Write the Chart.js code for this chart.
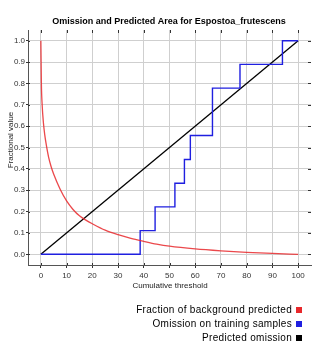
<!DOCTYPE html>
<html>
<head>
<meta charset="utf-8">
<script src="https://cdn.jsdelivr.net/npm/chart.js@4/dist/chart.umd.min.js"></script>
<style>
  html, body { margin: 0; padding: 0; background: #fff; }
  #wrap { width: 322px; height: 350px; }
</style>
</head>
<body>
<div id="wrap"><canvas id="chart" width="322" height="350"></canvas></div>
<script>
// data
const bgThreshold = [0, 0.2, 0.5, 1, 1.5, 2, 3, 4, 5, 7.5, 10, 12.5, 15, 17.5, 20, 25, 30, 35, 40, 45, 50, 60, 70, 80, 90, 100];
const bgFraction  = [1.0, 0.8, 0.7, 0.615, 0.56, 0.52, 0.455, 0.41, 0.375, 0.305, 0.25, 0.21, 0.18, 0.16, 0.143, 0.113, 0.092, 0.075, 0.061, 0.048, 0.038, 0.025, 0.016, 0.009, 0.004, 0.0];

const omThreshold = [0, 38.6, 44.4, 52.1, 55.8, 58.1, 66.7, 77.4, 93.9, 100];
const omValue     = [0, 0.111, 0.222, 0.333, 0.444, 0.556, 0.778, 0.889, 1.0, 1.0];

const predThreshold = [0, 100];
const predValue     = [0, 1];

const xTicks = [0, 10, 20, 30, 40, 50, 60, 70, 80, 90, 100];
const yTicks = [0, 0.1, 0.2, 0.3, 0.4, 0.5, 0.6, 0.7, 0.8, 0.9, 1.0];

const legendItems = [
    { label: 'Fraction of background predicted', color: '#e8282b' },
    { label: 'Omission on training samples', color: '#1f1fe0' },
    { label: 'Predicted omission', color: '#000000' }
];

function toPoints(xs, ys) {
    return xs.map((x, i) => ({ x: x, y: ys[i] }));
}

// title, axis titles, legend, inner tick marks
const decorations = {
    id: 'decorations',
    afterDraw(chart) {
        const ctx = chart.ctx;
        const area = chart.chartArea;
        const xs = chart.scales.x, ys = chart.scales.y;
        ctx.save();

        // small ticks inside the frame
        ctx.strokeStyle = '#333';
        ctx.lineWidth = 1;
        ctx.beginPath();
        xTicks.forEach(v => {
            const px = Math.round(xs.getPixelForValue(v)) + 0.5;
            ctx.moveTo(px, area.top); ctx.lineTo(px, area.top + 3);
            ctx.moveTo(px, area.bottom); ctx.lineTo(px, area.bottom - 2);
        });
        yTicks.forEach(v => {
            const py = Math.round(ys.getPixelForValue(v)) + 0.5;
            ctx.moveTo(area.right, py); ctx.lineTo(area.right - 3, py);
            ctx.moveTo(area.left, py); ctx.lineTo(area.left + 2, py);
        });
        ctx.stroke();

        ctx.fillStyle = '#000';
        ctx.textAlign = 'center';
        ctx.textBaseline = 'middle';
        ctx.font = 'bold 9px "Liberation Sans"';
        ctx.fillText('Omission and Predicted Area for Espostoa_frutescens', 169, 22);

        ctx.fillStyle = '#222';
        ctx.font = '8px "Liberation Sans"';
        ctx.fillText('Cumulative threshold', 170, 286);

        ctx.save();
        ctx.translate(10.5, 140);
        ctx.rotate(-Math.PI / 2);
        ctx.fillText('Fractional value', 0, 0);
        ctx.restore();

        // legend, right aligned with a square after the text
        ctx.font = '10px "Liberation Sans"';
        ctx.letterSpacing = '0.3px';
        ctx.textAlign = 'right';
        const rows = [310, 324, 338];
        legendItems.forEach((item, i) => {
            ctx.fillStyle = '#000';
            ctx.fillText(item.label, 292, rows[i]);
            ctx.fillStyle = item.color;
            ctx.fillRect(296, rows[i] - 3, 6, 6);
        });
        ctx.restore();
    }
};

const ctx = document.getElementById('chart').getContext('2d');

new Chart(ctx, {
    type: 'scatter',
    data: {
        datasets: [{
            label: legendItems[0].label,
            data: toPoints(bgThreshold, bgFraction),
            showLine: true,
            borderColor: 'rgba(232, 40, 43, 0.85)',
            borderWidth: 1.3,
            pointRadius: 0,
            cubicInterpolationMode: 'monotone'
        }, {
            label: legendItems[1].label,
            data: toPoints(omThreshold, omValue),
            showLine: true,
            stepped: 'before',
            borderColor: legendItems[1].color,
            borderWidth: 1.4,
            pointRadius: 0
        }, {
            label: legendItems[2].label,
            data: toPoints(predThreshold, predValue),
            showLine: true,
            borderColor: '#000',
            borderWidth: 1.3,
            pointRadius: 0
        }]
    },
    options: {
        responsive: false,
        animation: false,
        layout: { padding: { top: 30, right: 11, bottom: 0, left: 0 } },
        plugins: {
            legend: { display: false },
            title: { display: false },
            tooltip: { enabled: false }
        },
        scales: {
            x: {
                type: 'linear',
                min: -5,
                max: 105,
                afterBuildTicks(scale) { scale.ticks = xTicks.map(v => ({ value: v })); },
                afterFit(scale) { scale.height = 85; },
                grid: { color: '#cfcfcf', tickColor: '#333', tickLength: 3 },
                border: { color: '#555', width: 1 },
                ticks: {
                    padding: 3,
                    maxRotation: 0,
                    color: '#333',
                    font: { family: 'Liberation Sans', size: 8 },
                    callback: v => String(v)
                }
            },
            y: {
                type: 'linear',
                min: -0.05,
                max: 1.05,
                afterBuildTicks(scale) { scale.ticks = yTicks.map(v => ({ value: v })); },
                afterFit(scale) { scale.width = 28; },
                grid: { color: '#cfcfcf', tickColor: '#333', tickLength: 2 },
                border: { color: '#555', width: 1 },
                ticks: {
                    padding: 1,
                    color: '#333',
                    font: { family: 'Liberation Sans', size: 8 },
                    callback: v => v.toFixed(1)
                }
            }
        }
    },
    plugins: [decorations]
});
</script>
</body>
</html>
